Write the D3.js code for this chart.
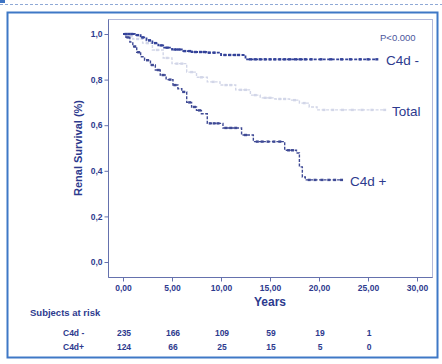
<!DOCTYPE html>
<html>
<head>
<meta charset="utf-8">
<script src="https://cdn.jsdelivr.net/npm/d3@7"></script>
<style>
  body { margin: 0; background: #fff; }
  text { font-family: "Liberation Sans", Arial, sans-serif; }
</style>
</head>
<body>
<script>
// data
var negTime = [0, 1.2, 1.8, 2.4, 3.0, 3.6, 4.2, 5.0, 6.0, 7.0, 8.5, 10.0, 12.5, 25.9];
var negSurv = [1.0, 0.995, 0.985, 0.972, 0.96, 0.95, 0.94, 0.932, 0.925, 0.921, 0.918, 0.908, 0.889, 0.889];
var negCensor = [0.3, 0.6, 0.9, 1.5, 2.0, 2.7, 3.3, 3.9, 4.5, 5.3, 5.7, 6.3, 6.8, 7.4, 7.9, 8.3, 8.8, 9.3,
  10.4, 10.9, 11.4, 11.8, 13.0, 13.5, 14.0, 14.5, 15.0, 15.5, 16.0, 16.5, 17.0, 17.6, 18.1, 18.6, 19.2,
  20.2, 21.2, 22.3, 23.2, 24.2, 25.0, 25.9];

var posTime = [0, 0.3, 0.7, 1.0, 1.4, 1.8, 2.2, 2.8, 3.3, 3.8, 4.4, 5.1, 5.6, 6.0, 6.5, 7.0, 7.5, 8.0, 8.6,
  10.2, 12.1, 13.3, 16.5, 17.7, 18.0, 18.3, 18.6, 22.3];
var posSurv = [1.0, 0.985, 0.965, 0.945, 0.92, 0.9, 0.885, 0.864, 0.842, 0.82, 0.8, 0.776, 0.76, 0.746, 0.7,
  0.68, 0.665, 0.65, 0.608, 0.588, 0.557, 0.528, 0.49, 0.478, 0.417, 0.373, 0.36, 0.36];
var posCensor = [0.5, 1.2, 1.6, 2.5, 3.0, 3.6, 4.1, 4.8, 5.3, 6.2, 6.8, 7.3, 7.8, 8.9, 9.3, 9.7, 10.5, 11.0,
  11.5, 12.5, 13.7, 14.2, 14.8, 15.4, 16.0, 16.9, 17.3, 19.0, 19.6, 20.3, 21.0, 21.6, 22.3];

var totTime = [0, 0.5, 1, 2, 3, 4.1, 5, 6.5, 7.5, 8.6, 9.9, 11.5, 13, 14, 15.5, 17, 18, 19, 19.8, 26.7];
var totSurv = [1.0, 0.99, 0.978, 0.96, 0.93, 0.895, 0.87, 0.833, 0.81, 0.79, 0.776, 0.755, 0.732, 0.72,
  0.715, 0.71, 0.697, 0.68, 0.667, 0.667];
var totCensor = [0.8, 1.5, 2.5, 3.5, 4.5, 5.5, 6.0, 7.0, 8.0, 9.2, 10.5, 11.0, 12.0, 12.5, 13.5, 14.5, 15.0,
  16.0, 16.5, 17.5, 18.5, 20.5, 21.4, 22.4, 23.4, 24.4, 25.4, 26.7];

var xTicks = [0, 5, 10, 15, 20, 25, 30];
var yTicks = [0, 0.2, 0.4, 0.6, 0.8, 1.0];
var riskYears = [0, 5, 10, 15, 20, 25];
var riskNeg = [235, 166, 109, 59, 19, 1];
var riskPos = [124, 66, 25, 15, 5, 0];

var navy = "#2d3a8e";
var width = 442, height = 364;

var svg = d3.select("body").append("svg")
    .attr("width", width)
    .attr("height", height);

// page decoration
svg.append("line")
    .attr("x1", 0).attr("x2", 442).attr("y1", 4.5).attr("y2", 4.5)
    .attr("stroke", "#8fa9d6").attr("stroke-dasharray", "3,2");
svg.append("rect")
    .attr("x", 0).attr("y", 0).attr("width", 5).attr("height", 3)
    .attr("fill", "#3d74c4");
svg.append("rect")
    .attr("x", 7.5).attr("y", 12.5).attr("width", 430).attr("height", 345)
    .attr("fill", "none").attr("stroke", "#3f78c6").attr("stroke-width", 2);

// scales
var x = d3.scaleLinear().domain([0, 30]).range([123, 417]);
var y = d3.scaleLinear().domain([0, 1]).range([262, 34]);

// plot box
svg.append("rect")
    .attr("x", 108.5).attr("y", 19.5).attr("width", 324).attr("height", 258)
    .attr("fill", "none").attr("stroke", "#b3b9da");

// y axis
var yAxis = svg.append("g")
    .attr("transform", "translate(108.5,0)")
    .call(d3.axisLeft(y).tickValues(yTicks).tickSize(4).tickPadding(2)
        .tickFormat(function(d) { return d3.format(".1f")(d).replace(".", ","); }));
yAxis.select(".domain").attr("stroke", "#6571ad").attr("d", "M0,19.5V277.5");
yAxis.selectAll(".tick line").attr("stroke", "#6571ad");
yAxis.selectAll("text").attr("fill", navy).attr("font-size", "8.5px").attr("font-weight", "bold")
    .attr("font-family", "Liberation Sans, Arial, sans-serif");

// x axis
var xAxis = svg.append("g")
    .attr("transform", "translate(0,277.5)")
    .call(d3.axisBottom(x).tickValues(xTicks).tickSize(4).tickPadding(3)
        .tickFormat(function(d) { return d3.format(".2f")(d).replace(".", ","); }));
xAxis.select(".domain").attr("stroke", "#6571ad").attr("d", "M108.5,0H432.5");
xAxis.selectAll(".tick line").attr("stroke", "#6571ad");
xAxis.selectAll("text").attr("fill", navy).attr("font-size", "8.5px").attr("font-weight", "bold")
    .attr("font-family", "Liberation Sans, Arial, sans-serif");

// axis titles
svg.append("text")
    .attr("transform", "translate(82,148) rotate(-90)")
    .attr("text-anchor", "middle")
    .attr("fill", navy).attr("font-size", "11px").attr("font-weight", "bold")
    .text("Renal Survival (%)");
svg.append("text")
    .attr("x", x(15)).attr("y", 306)
    .attr("text-anchor", "middle")
    .attr("fill", navy).attr("font-size", "12px").attr("font-weight", "bold")
    .text("Years");

// curves
var line = d3.line()
    .x(function(d) { return x(d[0]); })
    .y(function(d) { return y(d[1]); })
    .curve(d3.curveStepAfter);

function survAt(times, surv, t) {
    var i = d3.bisectRight(times, t) - 1;
    return surv[Math.max(0, i)];
}

function drawCurve(times, surv, censor, color, w) {
    var pts = d3.zip(times, surv);
    svg.append("path")
        .datum(pts)
        .attr("fill", "none")
        .attr("stroke", color)
        .attr("stroke-width", w)
        .attr("stroke-dasharray", "3,1.5")
        .attr("d", line);
    svg.append("g").selectAll("rect")
        .data(censor)
        .enter().append("rect")
        .attr("x", function(t) { return x(t) - 1.5; })
        .attr("y", function(t) { return y(survAt(times, surv, t)) - 1.2; })
        .attr("width", 3)
        .attr("height", 2.4)
        .attr("fill", color);
}

drawCurve(totTime, totSurv, totCensor, "#d2d6e8", 1.4);
drawCurve(posTime, posSurv, posCensor, "#3f4a95", 1.4);
drawCurve(negTime, negSurv, negCensor, "#34439a", 1.8);

// labels in the plot
svg.append("text").attr("x", 380).attr("y", 41)
    .attr("fill", "#4b569c").attr("font-size", "9.5px").text("P<0.000");
svg.append("text").attr("x", 386).attr("y", y(0.889) + 6)
    .attr("fill", navy).attr("font-size", "13.5px").text("C4d -");
svg.append("text").attr("x", 392).attr("y", y(0.667) + 6)
    .attr("fill", navy).attr("font-size", "13.5px").text("Total");
svg.append("text").attr("x", 350).attr("y", y(0.36) + 6)
    .attr("fill", navy).attr("font-size", "13.5px").text("C4d +");

// subjects at risk table
svg.append("text").attr("x", 30).attr("y", 316)
    .attr("fill", navy).attr("font-size", "9.5px").attr("font-weight", "bold")
    .text("Subjects at risk");

var rows = [["C4d -", riskNeg, 336], ["C4d+", riskPos, 350]];
rows.forEach(function(r) {
    svg.append("text").attr("x", 63).attr("y", r[2])
        .attr("fill", navy).attr("font-size", "8.5px").attr("font-weight", "bold")
        .text(r[0]);
    svg.append("g").selectAll("text")
        .data(r[1])
        .enter().append("text")
        .attr("x", function(d, i) { return x(riskYears[i]) + 1; })
        .attr("y", r[2])
        .attr("text-anchor", "middle")
        .attr("fill", navy).attr("font-size", "8.5px").attr("font-weight", "bold")
        .text(function(d) { return d; });
});
</script>
</body>
</html>
